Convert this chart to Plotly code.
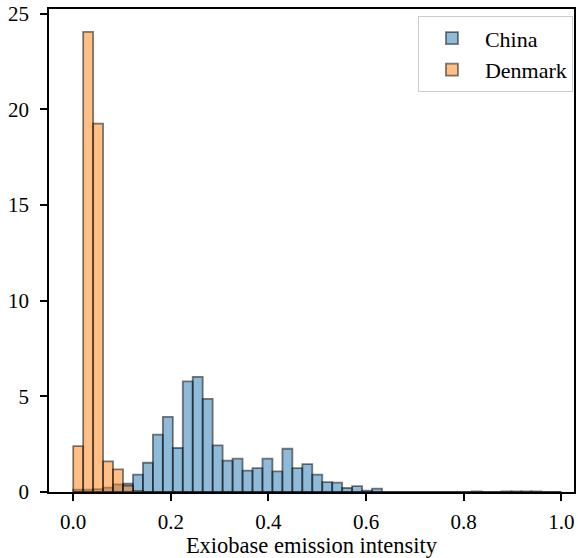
import numpy as np
import plotly.graph_objects as go

# Histogram bins (shared by both series): 49 equal bins spanning 0..1
bin_edges = np.linspace(0.0, 1.0, 50)

# Density values, one per bin
china_density = [0.12, 0.12, 0.15, 0.23, 0.40, 0.44, 0.91, 1.53, 3.00, 3.93,
                 2.30, 5.78, 6.02, 4.87, 2.44, 1.64, 1.74, 1.12, 1.25, 1.74,
                 1.08, 2.26, 1.25, 1.46, 0.91, 0.52, 0.49, 0.21, 0.31, 0.07,
                 0.18, 0.0, 0.0, 0.0, 0.0, 0.0, 0.0, 0.0, 0.0, 0.0,
                 0.03, 0.0, 0.0, 0.03, 0.03, 0.03, 0.03, 0.0, 0.0]
denmark_density = [2.40, 24.05, 19.26, 1.60, 1.18, 0.33, 0.05, 0.0, 0.0, 0.0,
                   0.0, 0.0, 0.0, 0.0, 0.0, 0.0, 0.0, 0.0, 0.0, 0.0,
                   0.0, 0.0, 0.0, 0.0, 0.0, 0.0, 0.0, 0.0, 0.0, 0.0,
                   0.0, 0.0, 0.0, 0.0, 0.0, 0.0, 0.0, 0.0, 0.0, 0.0,
                   0.0, 0.0, 0.0, 0.0, 0.0, 0.0, 0.0, 0.0, 0.0]

series_names = ["China", "Denmark"]
x_tick_vals = [0.0, 0.2, 0.4, 0.6, 0.8, 1.0]
x_tick_text = ["0.0", "0.2", "0.4", "0.6", "0.8", "1.0"]
y_tick_vals = [0, 5, 10, 15, 20, 25]
x_label = "Exiobase emission intensity"

centers = (bin_edges[:-1] + bin_edges[1:]) / 2
widths = np.diff(bin_edges)

FONT = "Liberation Serif, Times New Roman, serif"

fig = go.Figure()
for name, vals, col in [(series_names[0], china_density, "rgba(31,119,180,0.5)"),
                        (series_names[1], denmark_density, "rgba(255,127,14,0.5)")]:
    fig.add_trace(go.Bar(
        x=centers, y=vals, width=widths, name=name,
        marker=dict(color=col,
                    line=dict(color="rgba(0,0,0,0.5)", width=1.8)),
    ))

fig.update_layout(
    width=578, height=558,
    barmode="overlay",
    plot_bgcolor="white", paper_bgcolor="white",
    margin=dict(l=49, r=2, t=8, b=66),
    font=dict(family=FONT, size=21, color="black"),
    legend=dict(x=0.998, xanchor="right", y=0.985, yanchor="top",
                bgcolor="rgba(255,255,255,0.8)", bordercolor="#cccccc",
                borderwidth=1, font=dict(size=22),
                itemwidth=56, tracegroupgap=0),
    showlegend=True,
)
fig.update_xaxes(
    range=[-0.0496, 1.026], tickvals=x_tick_vals, ticktext=x_tick_text,
    ticks="outside", ticklen=7, tickwidth=1.5, tickcolor="black",
    showline=True, linecolor="black", linewidth=1.6, mirror=True,
    showgrid=False, zeroline=False, ticklabelstandoff=3,
    title=dict(text=x_label, font=dict(size=22.5), standoff=2),
)
fig.update_yaxes(
    range=[0, 25.25], tickvals=y_tick_vals,
    ticks="outside", ticklen=7, tickwidth=1.5, tickcolor="black",
    showline=True, linecolor="black", linewidth=1.6, mirror=True,
    showgrid=False, zeroline=False, ticklabelstandoff=7,
)

fig.write_html("out.html")
